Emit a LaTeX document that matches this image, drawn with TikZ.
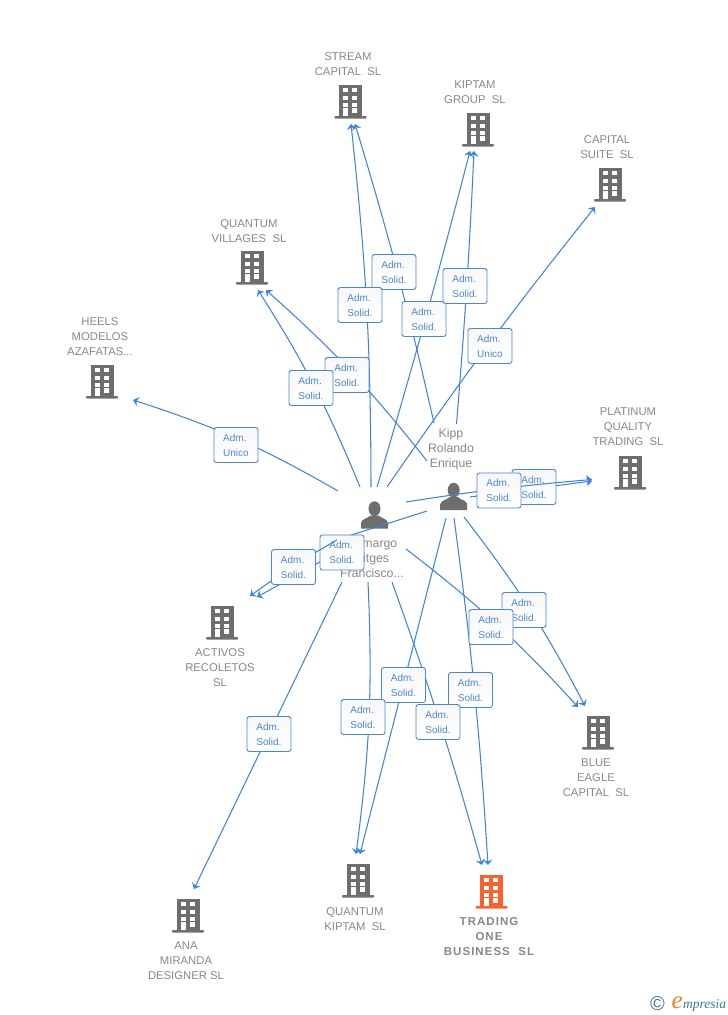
\documentclass[tikz,border=0pt]{standalone}
\usepackage{fontspec}
\setmainfont{Liberation Sans}
\newfontfamily\logofont[ItalicFont=Liberation Serif Italic]{Liberation Serif}
\usetikzlibrary{arrows.meta}

\definecolor{linkblue}{HTML}{3F83E0}
\definecolor{boxblue}{HTML}{4A86DC}
\definecolor{namegrey}{HTML}{878787}
\definecolor{iconGrey}{HTML}{6E6E6E}
\definecolor{iconOrange}{HTML}{F9622F}
\definecolor{logoteal}{HTML}{3B7A8C}
\definecolor{logoorange}{HTML}{F08020}

\tikzset{
  link/.style={draw=linkblue, line width=1.05pt, -{Stealth[length=5.5pt,width=9.5pt,inset=2pt]}},
  stub/.style={draw=linkblue, line width=1.05pt},
  adm/.style={draw=boxblue, line width=0.9pt, rounded corners=2.5pt, top color=black!3, bottom color=white,
    minimum width=44pt, minimum height=35pt, inner sep=0pt, align=left, text=boxblue,
    font=\fontsize{10}{15}\selectfont},
  company/.style={text=namegrey, inner sep=0pt, yshift=-0.7pt, align=center, font=\fontsize{11.3}{15}\selectfont},
  person/.style={text=namegrey, inner sep=0pt, yshift=-0.5pt, align=center, font=\fontsize{12.3}{15}\selectfont},
  bldg/.pic={
    \fill[#1] (-11.5,0) rectangle (11.5,31.5);
    \fill[#1, rounded corners=0.8pt] (-16,31) rectangle (16,33.5);
    \foreach \wy in {3.3,11,17.7} {
      \fill[white] (-7.5,\wy) rectangle (-2.5,\wy+4);
      \fill[white] (1.8,\wy) rectangle (6.8,\wy+4);
    }
    \fill[white] (-7.5,23.3) rectangle (-2.5,31);
    \fill[white] (1.8,23.3) rectangle (6.8,27.7);
  },
  man/.pic={
    \fill[iconGrey] (0,7.2) ellipse (6 and 7.4);
    \fill[iconGrey] (-13.5,27) -- (-13.5,21.5) .. controls (-13.5,17.5) and (-7,17) .. (-4,14)
      -- (4,14) .. controls (7,17) and (13.5,17.5) .. (13.5,21.5) -- (13.5,27) -- cycle;
  }
}

\begin{document}
\begin{tikzpicture}[x=1pt,y=-1pt]
  \useasboundingbox (0,0) rectangle (728,1015);

  % companies
  \foreach \bname/\bx/\by in {stream/350.5/85, kipgroup/478/113, suite/610/168, villages/252/251,
      heels/102/365, platinum/630/456, activos/222/606, eagle/598/716, ana/188/899, qkiptam/358/864}
    \pic (\bname) at (\bx,\by) {bldg=iconGrey};
  \pic (trading) at (491.5,875) {bldg=iconOrange};

  \node[company] (streamname) at (348,63.5) {STREAM\\CAPITAL~~SL};
  \node[company] (kipgroupname) at (475,91) {KIPTAM\\GROUP~~SL};
  \node[company] (suitename) at (607,146) {CAPITAL\\SUITE~~SL};
  \node[company] (villagesname) at (249,230) {QUANTUM\\VILLAGES~~SL};
  \node[company] (heelsname) at (100,335.5) {HEELS\\MODELOS\\AZAFATAS...};
  \node[company] (platinumname) at (628,426) {PLATINUM\\QUALITY\\TRADING~~SL};
  \node[company] (activosname) at (220,667) {ACTIVOS\\RECOLETOS\\SL};
  \node[company] (eaglename) at (596,777) {BLUE\\EAGLE\\CAPITAL~~SL};
  \node[company] (ananame) at (186,960) {ANA\\MIRANDA\\DESIGNER SL};
  \node[company] (qkiptamname) at (355,918) {QUANTUM\\KIPTAM~~SL};
  \node[company, font=\fontsize{11.5}{15}\selectfont\bfseries\addfontfeature{LetterSpace=9}] (tradingname) at (489,935.5) {TRADING\\ONE\\BUSINESS~~SL};

  % people
  \pic (kipp) at (453.7,483) {man};
  \pic (camargo) at (374.5,501.5) {man};
  \node[person] (kippname) at (451,449) {Kipp\\Rolando\\Enrique};
  \node[person] (camargoname) at (372,558) {Camargo\\Sitges\\Francisco...};

  % links, free ends are named after the label they run through
  \foreach \lnk/\sx/\sy/\tx/\ty/\bnd in {
      a/338/491/133/400/-6, b/360/487/258/290/-5, c/427/461/266/290/-5, d/371/487/351/124/-3,
      e/434/423/355/124/-2, f/377/487/470/151/-1, g/456.5/424/474/151/-1, h/387/487/595/207/2,
      i/464/517/585/706/5, j/406/549/578/707/5, k/454/518/488/865/2, l/392/582/482/865/2,
      m/446/518/360/854/0, n/368/582/356/854/5, o/342/582/194/889/0, p/345/548/257/597/0} {
    \coordinate (s\lnk) at (\sx,\sy);
    \coordinate (t\lnk) at (\tx,\ty);
    \draw[link] (s\lnk) to[bend left=\bnd] (t\lnk);
  }

  \foreach \lbl/\lx/\ly/\ltxt in {
      a/236/445/Unico, c/347/375/Solid., b/311/388/Solid., e/394/272/Solid., d/360/305/Solid.,
      f/424/319/Solid., g/465/286/Solid., h/490/346/Unico, i/524/610/Solid., j/491/627/Solid.,
      k/470.5/690/Solid., l/438/722/Solid., m/403.5/685/Solid., n/363/717/Solid., o/269/734/Solid.}
    \node[adm] (box\lbl) at (\lx,\ly) {Adm.\\\ltxt};

  % both links to platinum
  \coordinate (sq) at (470,497);
  \coordinate (tq) at (592,481);
  \draw[link] (sq) -- (tq);
  \node[adm] (boxq) at (534,487) {Adm.\\Solid.};
  \coordinate (sr) at (406,502);
  \coordinate (tr) at (592,479.5);
  \draw[link] (sr) to[bend left=2] (tr);
  \node[adm] (boxr) at (499,490.5) {Adm.\\Solid.};

  % link to activos goes on top of its box
  \coordinate (su) at (427,511);
  \coordinate (mu) at (345,537);
  \draw[stub] (su) -- (mu);
  \node[adm] (boxu) at (342,552.5) {Adm.\\Solid.};
  \coordinate (nu) at (337,540);
  \coordinate (tu) at (250,596);
  \draw[link] (nu) to[bend left=-3] (tu);
  \node[adm] (boxv) at (293.5,567) {Adm.\\Solid.};

  % logo
  \node[text=logoteal, inner sep=0pt, font=\fontsize{20}{20}\selectfont] (copysign) at (657.5,1004) {\textcopyright};
  \node[text=logoteal, inner sep=0pt, anchor=base west, font=\logofont\itshape\fontsize{13.5}{14}\selectfont] (logotext) at (683,1008.5) {mpresia};
  \node[text=logoorange, inner sep=0pt, anchor=base east, font=\logofont\itshape\fontsize{25}{25}\selectfont] (logoe) at (logotext.base west) {e};

\end{tikzpicture}
\end{document}
